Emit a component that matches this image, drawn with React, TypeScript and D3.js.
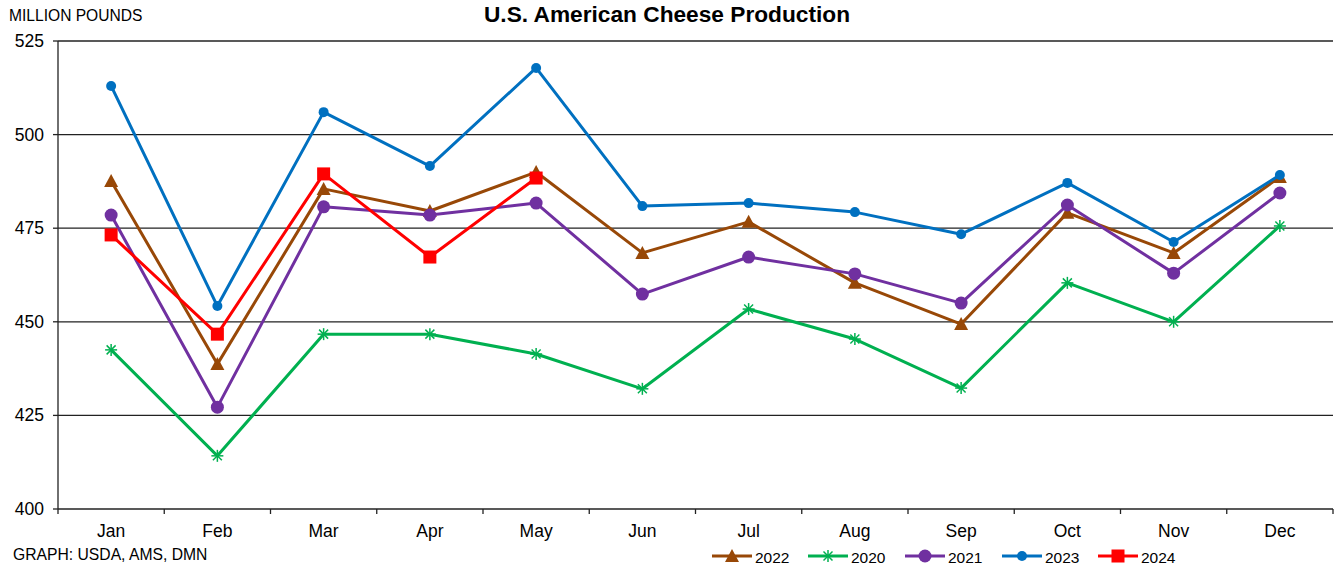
import React from "react";
import * as d3 from "d3";

const months = ["Jan","Feb","Mar","Apr","May","Jun","Jul","Aug","Sep","Oct","Nov","Dec"];
const yTicks = [400, 425, 450, 475, 500, 525];
const v2022 = [487.6, 438.7, 485.5, 479.6, 490.0, 468.4, 476.7, 460.4, 449.4, 479.1, 468.4, 488.7];
const v2020 = [442.5, 414.2, 446.7, 446.7, 441.4, 432.1, 453.4, 445.4, 432.3, 460.4, 450.0, 475.6];
const v2021 = [478.5, 427.2, 480.7, 478.5, 481.7, 457.4, 467.3, 462.8, 455.0, 481.2, 463.0, 484.4];
const v2023 = [513.0, 454.2, 506.0, 491.6, 517.8, 480.9, 481.7, 479.3, 473.4, 487.1, 471.3, 489.2];
const v2024 = [473.2, 446.7, 489.5, 467.3, 488.4];

const series = [
  { name: "2022", values: v2022, color: "#984807", marker: "triangle" },
  { name: "2020", values: v2020, color: "#00B050", marker: "star" },
  { name: "2021", values: v2021, color: "#7030A0", marker: "circle" },
  { name: "2023", values: v2023, color: "#0070C0", marker: "dot" },
  { name: "2024", values: v2024, color: "#FF0000", marker: "square" },
];

const W = 1335, H = 567;
const left = 58, right = 1333, top = 41, bottom = 509;

function Marker({ type, x, y, color }: { type: string; x: number; y: number; color: string }) {
  if (type === "triangle") {
    return <path d={`M${x},${y - 7}L${x + 7},${y + 6}L${x - 7},${y + 6}Z`} fill={color} />;
  }
  if (type === "circle") return <circle cx={x} cy={y} r={6.5} fill={color} />;
  if (type === "dot") return <circle cx={x} cy={y} r={5} fill={color} />;
  if (type === "square") return <rect x={x - 6.5} y={y - 6.5} width={13} height={13} fill={color} />;
  if (type === "star") {
    const r = 6;
    return (
      <g stroke={color} strokeWidth={1.5}>
        <line x1={x - r} y1={y} x2={x + r} y2={y} />
        <line x1={x} y1={y - r} x2={x} y2={y + r} />
        <line x1={x - r * 0.75} y1={y - r * 0.75} x2={x + r * 0.75} y2={y + r * 0.75} />
        <line x1={x - r * 0.75} y1={y + r * 0.75} x2={x + r * 0.75} y2={y - r * 0.75} />
      </g>
    );
  }
  return null;
}

export default function App() {
  const x = d3.scaleBand<string>().domain(months).range([left, right]);
  const y = d3.scaleLinear().domain([400, 525]).range([bottom, top]);
  const line = d3.line<number>().x((_, i) => (x(months[i]) as number) + x.bandwidth() / 2).y((d) => y(d));
  const font = "'Liberation Sans', Arial, sans-serif";
  const legendX = [712, 808, 905, 1002, 1098];

  return (
    <div style={{ position: "absolute", left: 0, top: 0 }}>
      <svg width={W} height={H} style={{ display: "block", background: "#fff" }} fontFamily={font}>
        <text x={667} y={22} textAnchor="middle" fontSize={22.7} fontWeight="bold">U.S. American Cheese Production</text>
        <text x={9} y={21} fontSize={15.6}>MILLION POUNDS</text>
        {yTicks.map((t) => (
          <g key={t}>
            <line x1={left} x2={right} y1={y(t)} y2={y(t)} stroke="#222" strokeWidth={1.3} />
            <line x1={left - 5} x2={left} y1={y(t)} y2={y(t)} stroke="#222" strokeWidth={1.3} />
            <text x={44} y={y(t) + 6} textAnchor="end" fontSize={17.5}>{t}</text>
          </g>
        ))}
        <line x1={left} x2={left} y1={top} y2={bottom} stroke="#222" strokeWidth={1.3} />
        {months.map((m) => (
          <g key={m}>
            <line x1={(x(m) as number)} x2={(x(m) as number)} y1={bottom} y2={bottom + 5} stroke="#222" strokeWidth={1.3} />
            <text x={(x(m) as number) + x.bandwidth() / 2} y={537} textAnchor="middle" fontSize={17.5}>{m}</text>
          </g>
        ))}
        <line x1={right} x2={right} y1={bottom} y2={bottom + 5} stroke="#222" strokeWidth={1.3} />
        {series.map((s) => (
          <g key={s.name}>
            <path d={line(s.values) as string} fill="none" stroke={s.color} strokeWidth={3} strokeLinejoin="round" />
            {s.values.map((v, i) => (
              <Marker key={i} type={s.marker} x={(x(months[i]) as number) + x.bandwidth() / 2} y={y(v)} color={s.color} />
            ))}
          </g>
        ))}
        <text x={13} y={560} fontSize={15.7}>GRAPH: USDA, AMS, DMN</text>
        {series.map((s, i) => (
          <g key={s.name}>
            <line x1={legendX[i]} x2={legendX[i] + 40} y1={556} y2={556} stroke={s.color} strokeWidth={3} />
            <Marker type={s.marker} x={legendX[i] + 20} y={556} color={s.color} />
            <text x={legendX[i] + 43} y={562.5} fontSize={15.5}>{s.name}</text>
          </g>
        ))}
      </svg>
    </div>
  );
}
